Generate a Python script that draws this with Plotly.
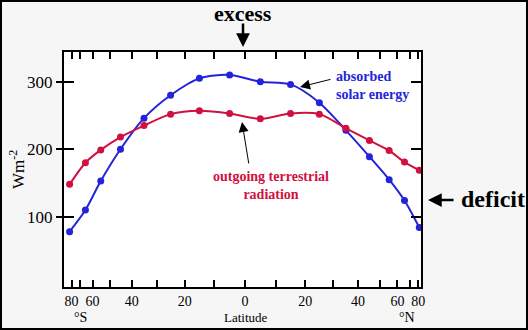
import numpy as np
import plotly.graph_objects as go

# ---- data ----
latitudes = [-85, -65, -55, -45, -35, -25, -15, -5, 5, 15, 25, 35, 45, 55, 65, 82]
absorbed_solar = [78, 110, 153, 200, 246, 280, 305, 310, 300, 296, 269, 228, 189, 155, 124, 84]
outgoing_terrestrial = [148, 180, 199, 218, 235, 252, 257, 253, 245, 253, 252, 231, 213, 198, 181, 169]
tick_lats = [-80, -70, -60, -50, -40, -30, -20, -10, 0, 10, 20, 30, 40, 50, 60, 70, 80]
tick_labels = ["80", "", "60", "", "40", "", "20", "", "0", "", "20", "", "40", "", "60", "", "80"]
y_ticks = [100, 200, 300]

BLUE = "#2323dc"
RED = "#d0103e"
SERIF = "Liberation Serif, Times New Roman, serif"

xs = np.sin(np.radians(latitudes))
tick_x = np.sin(np.radians(tick_lats))

# plot area pixel geometry
L, R, T, B = 64, 421, 52, 287
W, H = R - L, B - T


def px(x):
    return (x - L) / W


def py(y):
    return (B - y) / H


fig = go.Figure()
fig.add_trace(go.Scatter(x=xs, y=absorbed_solar, mode="lines+markers",
                         line=dict(color=BLUE, width=2, shape="spline", smoothing=0.8),
                         marker=dict(color=BLUE, size=7), name="absorbed solar energy"))
fig.add_trace(go.Scatter(x=xs, y=outgoing_terrestrial, mode="lines+markers",
                         line=dict(color=RED, width=2, shape="spline", smoothing=0.8),
                         marker=dict(color=RED, size=7), name="outgoing terrestrial radiation"))
# dummy trace to hold the outer-tick overlay axis
fig.add_trace(go.Scatter(x=[None], y=[None], yaxis="y2", showlegend=False, hoverinfo="skip"))

yr = [-4, 344]
fig.update_layout(
    width=528, height=330,
    margin=dict(l=L, r=528 - R, t=T, b=330 - B),
    paper_bgcolor="#f6f6f6", plot_bgcolor="white",
    showlegend=False,
    font=dict(family=SERIF, color="black"),
    xaxis=dict(range=[-1.028, 1.0], tickvals=tick_x, ticktext=tick_labels,
               ticks="inside", ticklen=7, tickwidth=1.5, tickcolor="black",
               showline=True, linewidth=2, linecolor="black", mirror="ticks",
               showgrid=False, zeroline=False, tickfont=dict(size=14, family=SERIF)),
    yaxis=dict(range=yr, tickvals=y_ticks, showticklabels=False,
               ticks="inside", ticklen=10, tickwidth=2, tickcolor="black",
               showline=True, linewidth=2, linecolor="black", mirror="ticks",
               showgrid=False, zeroline=False),
    yaxis2=dict(range=yr, tickvals=y_ticks, overlaying="y", side="left",
                ticks="outside", ticklen=7, tickwidth=2, tickcolor="black",
                showline=False, showgrid=False, zeroline=False,
                tickfont=dict(size=17, family=SERIF)),
)


def label(x, y, text, size, color="black", xanchor="center", align="center", angle=0):
    return dict(x=px(x), y=py(y), xref="paper", yref="paper", text=text,
                xanchor=xanchor, yanchor="middle", align=align, textangle=angle,
                showarrow=False, font=dict(size=size, family=SERIF, color=color))


def arrow(x, y, ax, ay, width, size):
    return dict(x=px(x), y=py(y), xref="paper", yref="paper", text="", showarrow=True,
                ax=ax, ay=ay, arrowhead=2, arrowsize=size, arrowwidth=width,
                arrowcolor="black")


ann = [
    label(17, 170, "Wm<sup>-2</sup>", 17, angle=-90),
    label(80, 317, "°S", 14),
    label(246, 317, "Latitude", 13),
    label(407, 317, "°N", 14),
    label(243, 13, "<b>excess</b>", 22),
    arrow(243, 47, 0, -25, 2.5, 1.1),
    label(459, 199, "<b>deficit</b>", 24, xanchor="left"),
    arrow(428, 200, 27, 0, 2.5, 1.1),
    label(334, 85, "<b>absorbed<br>solar energy</b>", 14, color=BLUE, xanchor="left", align="left"),
    arrow(300, 87, 32, -8, 1, 2),
    label(271, 185.5, "<b>outgoing terrestrial<br>radiation</b>", 14, color=RED),
    arrow(242, 122, 7, 43, 1, 2),
]
fig.update_layout(annotations=ann)

# outer black frame of the whole image
fig.add_shape(type="rect", xref="paper", yref="paper",
              x0=px(1), x1=px(527), y0=py(329), y1=py(1),
              line=dict(color="black", width=2), fillcolor="rgba(0,0,0,0)", layer="above")

fig.write_html("out.html")
